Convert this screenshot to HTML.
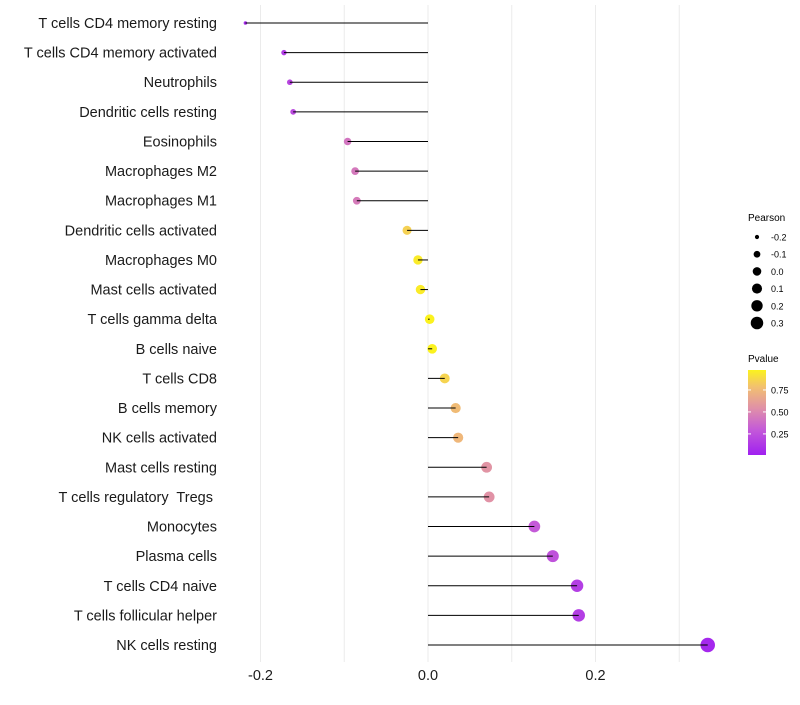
<!DOCTYPE html>
<html><head><meta charset="utf-8"><style>
body{margin:0;background:#fff;}
svg text{font-family:"Liberation Sans",sans-serif;white-space:pre;}
</style></head><body>
<svg id="chart" width="800" height="700">
<defs><linearGradient id="pg" x1="0" y1="1" x2="0" y2="0">
<stop offset="0" stop-color="#a020f0"/><stop offset="0.3" stop-color="#c45ad8"/>
<stop offset="0.55" stop-color="#e090a8"/><stop offset="0.8" stop-color="#f2c070"/>
<stop offset="1" stop-color="#fbf21e"/></linearGradient></defs>
<g id="grid"></g>
<g id="dots"></g>
<g id="marks"></g>
<g id="ylabels"></g>
<g id="xlabels"></g>
<g id="legend">
<text x="748" y="221" font-size="10">Pearson</text>
<text x="748" y="362" font-size="10">Pvalue</text>
<rect x="748" y="370" width="18" height="85" fill="url(#pg)"/>
</g>
</svg>
<script>
const categories=["T cells CD4 memory resting","T cells CD4 memory activated","Neutrophils","Dendritic cells resting","Eosinophils","Macrophages M2","Macrophages M1","Dendritic cells activated","Macrophages M0","Mast cells activated","T cells gamma delta","B cells naive","T cells CD8","B cells memory","NK cells activated","Mast cells resting","T cells regulatory  Tregs ","Monocytes","Plasma cells","T cells CD4 naive","T cells follicular helper","NK cells resting"];
const pearson=[-0.218,-0.172,-0.165,-0.161,-0.096,-0.087,-0.085,-0.025,-0.012,-0.009,0.002,0.005,0.020,0.033,0.036,0.070,0.073,0.127,0.149,0.178,0.180,0.334];
const pvalues=[0.06,0.15,0.2,0.22,0.42,0.44,0.45,0.85,0.95,0.95,1.0,0.98,0.86,0.76,0.74,0.56,0.55,0.3,0.26,0.16,0.16,0.05];
const xTicks=[-0.2,0.0,0.2];
const gridTicks=[-0.2,-0.1,0.0,0.1,0.2,0.3];
const sizeLegend=[-0.2,-0.1,0.0,0.1,0.2,0.3];
const pLegend=[0.75,0.50,0.25];
const NS="http://www.w3.org/2000/svg";
const x=v=>428+v*837.5;
const y=i=>23+i*(622/21);
const r=v=>Math.sqrt(3+(v+0.22)*90);
const rl=v=>Math.sqrt(3+(v+0.22)*70);
const py=p=>455-(p-0.01)*(85/0.967);
const stops=[[0,[160,32,240]],[0.3,[196,90,216]],[0.55,[224,144,168]],[0.8,[242,192,112]],[1,[251,242,30]]];
function col(p){p=Math.max(0,Math.min(1,(p-0.01)/0.967));for(let k=1;k<stops.length;k++){if(p<=stops[k][0]){const a=stops[k-1],b=stops[k],t=(p-a[0])/(b[0]-a[0]);return"rgb("+a[1].map((c,j)=>Math.round(c+(b[1][j]-c)*t)).join(",")+")";}}return"rgb(251,242,30)";}
function mk(tag,attrs,parent,txt){const e=document.createElementNS(NS,tag);for(const k in attrs)e.setAttribute(k,attrs[k]);if(txt!==undefined)e.textContent=txt;document.getElementById(parent).appendChild(e);return e;}
gridTicks.forEach(t=>{const l=mk("line",{x1:x(t),x2:x(t),y1:5,y2:662,stroke:"#ebebeb","stroke-width":1},"grid");

});
categories.forEach((c,i)=>{const yy=y(i);
const d=mk("circle",{cx:x(pearson[i]),cy:yy,r:r(pearson[i]),fill:col(pvalues[i])},"dots");


const ln=mk("line",{x1:x(0),x2:x(pearson[i]),y1:yy,y2:yy,stroke:"#000","stroke-width":1},"marks");


const t=mk("text",{x:217,y:yy+5,"text-anchor":"end","font-size":14.5,fill:"#1a1a1a"},"ylabels",c);

});
xTicks.forEach(t=>{const e=mk("text",{x:x(t),y:680,"text-anchor":"middle","font-size":14.5,fill:"#1a1a1a"},"xlabels",t.toFixed(1));

});
sizeLegend.forEach((v,i)=>{const yy=237+i*17.2;
const c=mk("circle",{cx:757,cy:yy,r:rl(v)},"legend");


const t=mk("text",{x:771,y:yy+3.5,"font-size":9},"legend",v.toFixed(1));

});
pLegend.forEach(p=>{const yy=py(p);
const l=mk("line",{x1:748,x2:751,y1:yy,y2:yy,stroke:"#fff"},"legend");


const l2=mk("line",{x1:763,x2:766,y1:yy,y2:yy,stroke:"#fff"},"legend");


const t=mk("text",{x:771,y:yy+3.5,"font-size":9},"legend",p.toFixed(2));

});
</script>
</body></html>
